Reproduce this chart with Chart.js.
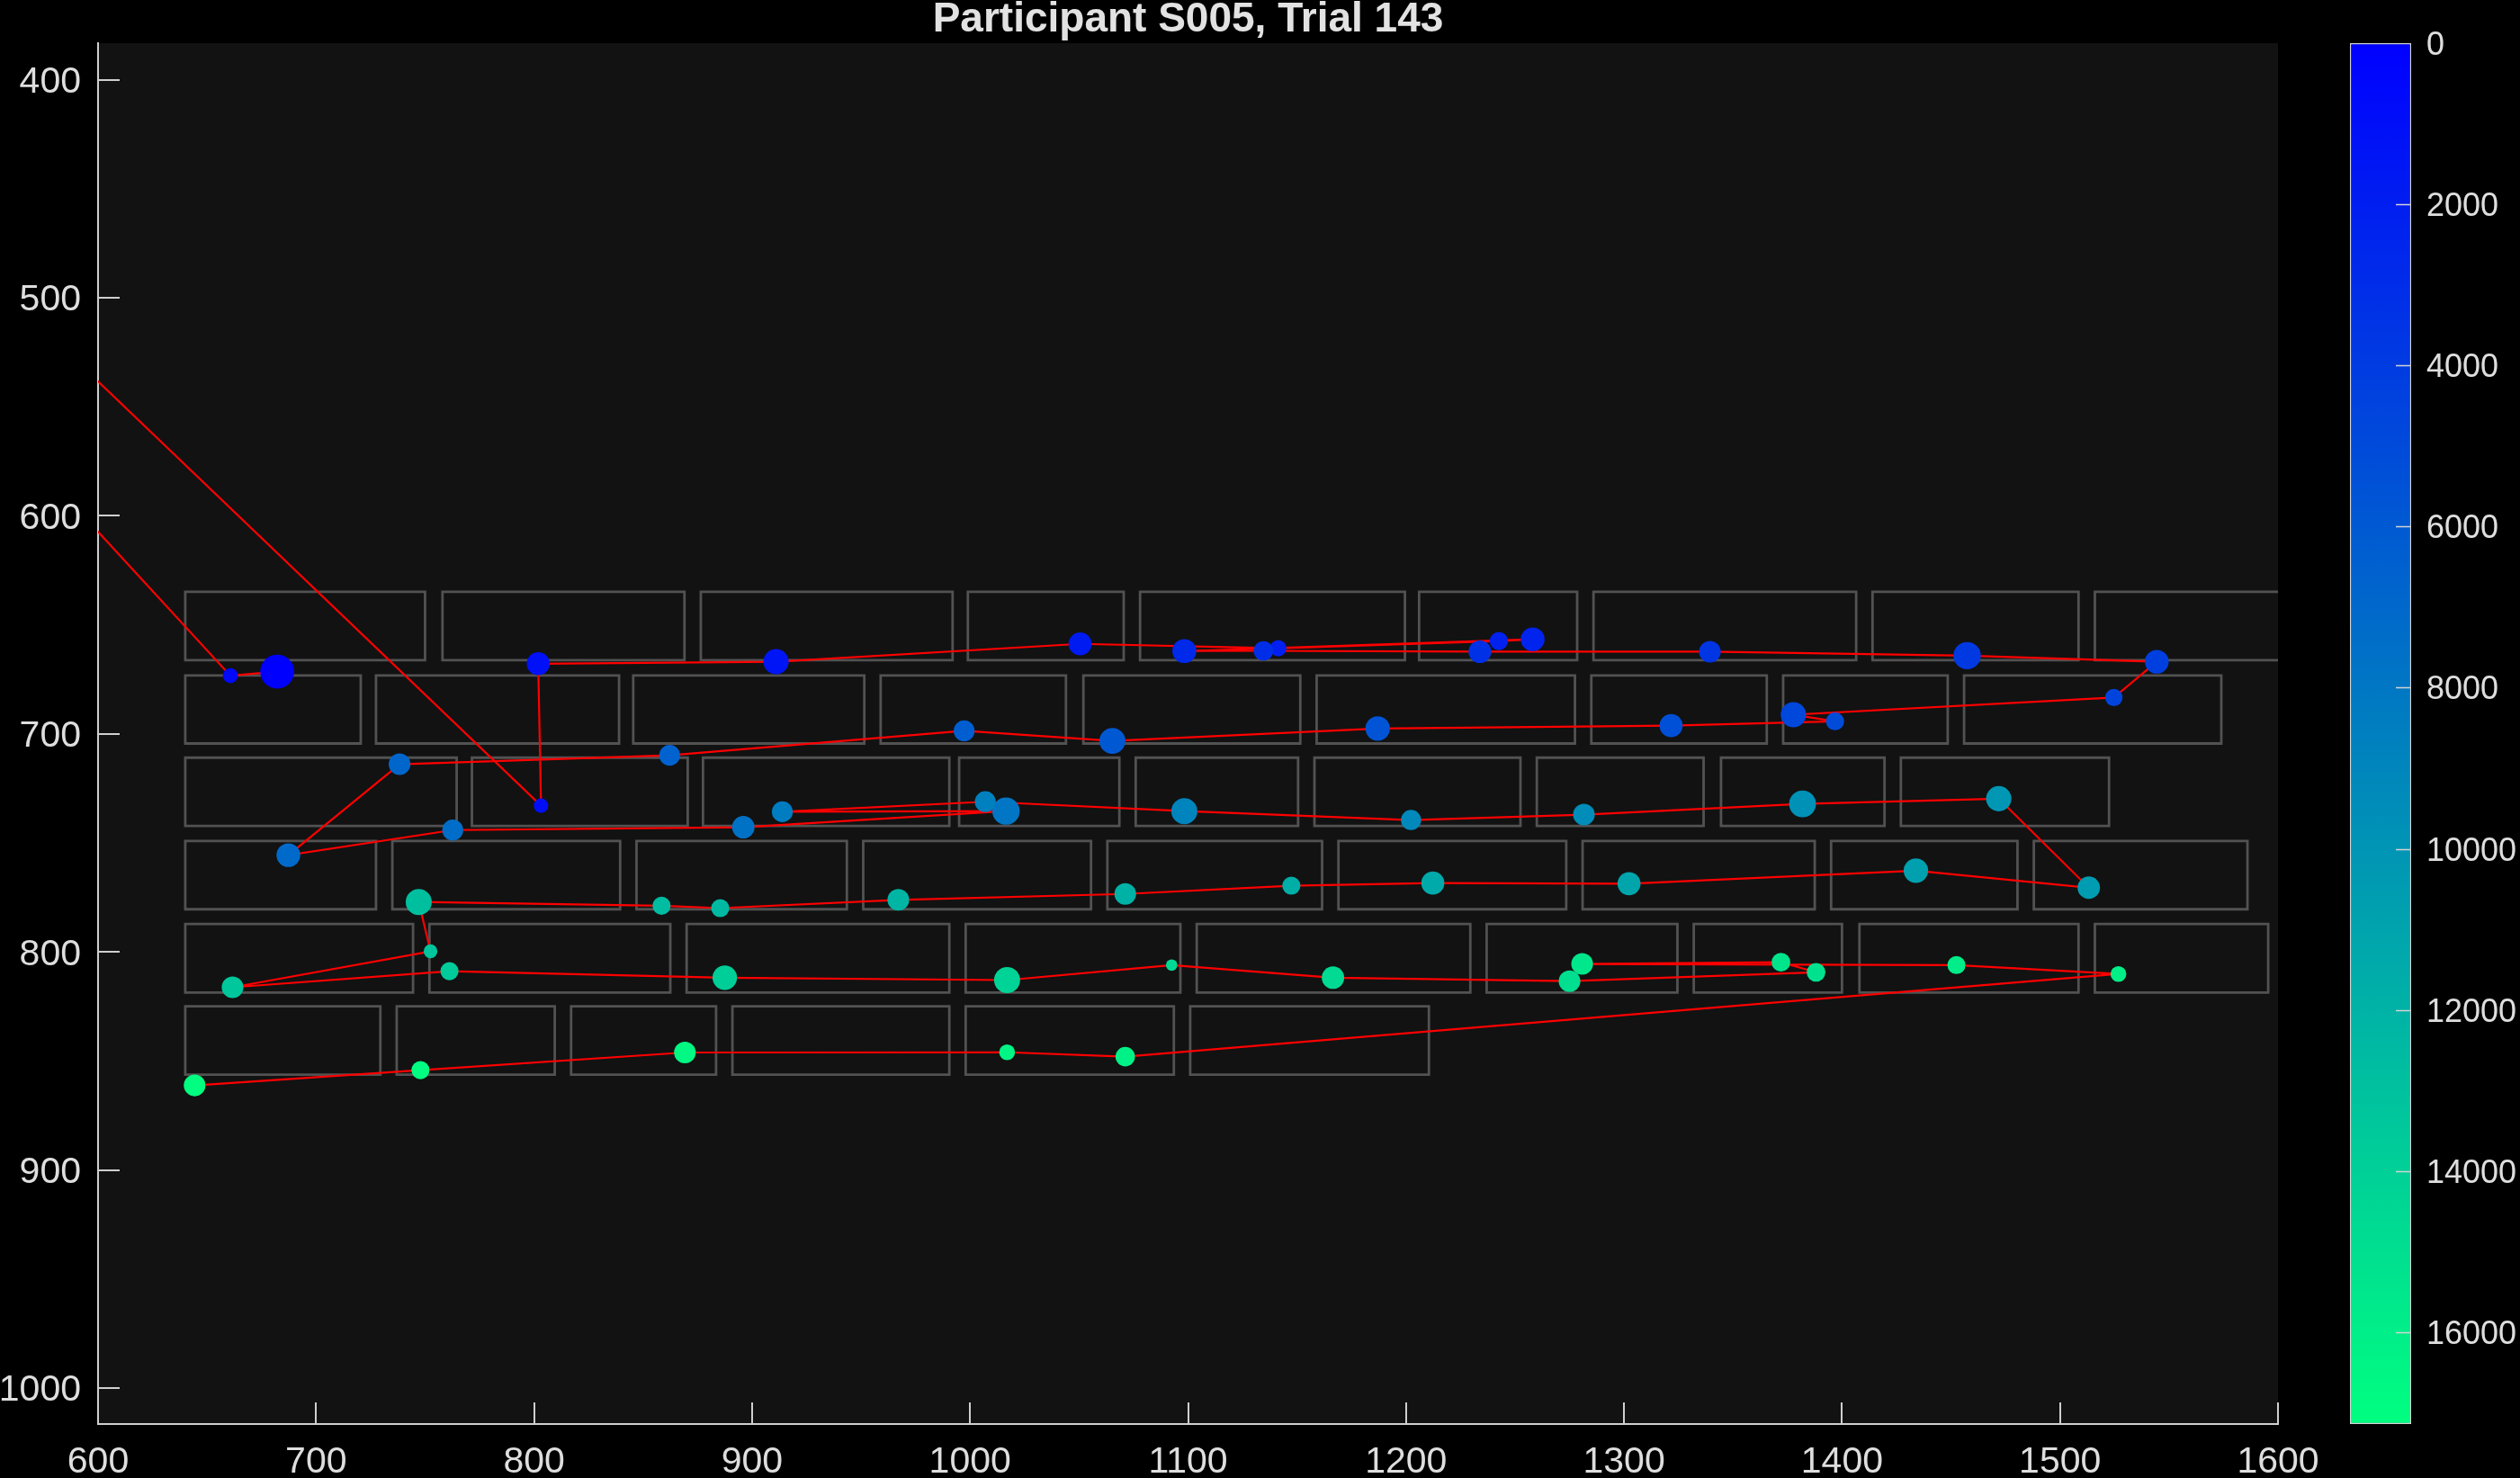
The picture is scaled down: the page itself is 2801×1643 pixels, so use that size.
<!DOCTYPE html>
<html>
<head>
<meta charset="utf-8">
<script src="https://cdn.jsdelivr.net/npm/chart.js@4.4.1/dist/chart.umd.min.js"></script>
<style>
  html, body { margin: 0; padding: 0; background: #000; overflow: hidden; }
  #wrap { position: relative; width: 2801px; height: 1643px; background: #000; }
  #main { position: absolute; left: 0; top: 0; }
  #cbar { position: absolute; left: 2540px; top: 0; }
</style>
</head>
<body>
<div id="wrap">
  <canvas id="main" width="2801" height="1643"></canvas>
  <canvas id="cbar" width="261" height="1643"></canvas>
</div>
<script>
// ---------------- data ----------------
const chartTitle = 'Participant S005, Trial 143';
const xTickValues = [600, 700, 800, 900, 1000, 1100, 1200, 1300, 1400, 1500, 1600];
const yTickValues = [400, 500, 600, 700, 800, 900, 1000];
const colorbarTicks = [0, 2000, 4000, 6000, 8000, 10000, 12000, 14000, 16000];

// fixation sequence (screen px), durations (ms) and onset times (ms)
const fixX = [682.2, 660.7, 70, 803.2, 801.9, 911.0, 1050.5, 1141.4, 1242.6, 1258.1,
  1098.3, 1134.6, 1233.9, 1339.4, 1457.4, 1544.4, 1524.7, 1377.7, 1396.8, 1321.6,
  1187.0, 1065.3, 997.3, 862.2, 738.3, 687.3, 762.7, 896.0, 1016.5, 913.9,
  1007.0, 1098.3, 1202.3, 1281.6, 1381.9, 1471.9, 1513.2, 1433.9, 1302.3, 1212.3,
  1147.4, 1071.2, 967.1, 885.4, 858.5, 747.1, 752.5, 661.7, 761.2, 887.5,
  1017.0, 1092.5, 1166.5, 1275.0, 1388.1, 1372.0, 1280.8, 1452.5, 1526.8, 1071.2,
  1017.0, 869.2, 747.9, 644.3];
const fixY = [671.4, 673.3, 31, 732.9, 667.8, 666.9, 658.7, 660.7, 657.4, 656.6,
  662.0, 661.9, 662.3, 662.3, 664.1, 666.9, 683.3, 691.2, 694.2, 696.2,
  697.5, 703.2, 698.6, 709.8, 713.9, 755.6, 744.1, 742.8, 735.4, 735.7,
  731.1, 735.4, 739.5, 737.0, 732.1, 729.7, 770.5, 762.7, 768.7, 768.4,
  769.6, 773.4, 776.1, 779.9, 778.8, 777.1, 799.7, 816.2, 808.8, 811.8,
  812.9, 806.0, 811.8, 813.4, 809.3, 804.7, 805.5, 806.0, 810.1, 848.0,
  846.0, 846.1, 854.2, 861.2];
const fixDuration = [535, 106, 165, 98, 246, 296, 246, 125, 155, 262,
  266, 175, 238, 218, 347, 262, 140, 296, 152, 246,
  279, 314, 203, 203, 218, 262, 203, 234, 347, 203,
  203, 314, 189, 218, 333, 296, 234, 279, 246, 246,
  152, 218, 218, 152, 152, 314, 88, 218, 152, 279,
  314, 61, 234, 218, 162, 162, 218, 152, 116, 175,
  116, 218, 152, 218];
const fixTime = [0, 588, 745, 963, 1113, 1411, 1761, 2059, 2236, 2443,
  2757, 3076, 3304, 3594, 3864, 4263, 4578, 4770, 5120, 5324,
  5622, 5953, 6320, 6575, 6831, 7101, 7416, 7671, 7958, 8358,
  8613, 8869, 9235, 9476, 9747, 10133, 10482, 10769, 11100, 11398,
  11697, 11900, 12171, 12441, 12645, 12848, 13215, 13355, 13625, 13829,
  14160, 14526, 14640, 14927, 15197, 15411, 15625, 15896, 16099, 16268,
  16496, 16665, 16935, 17139];

// word boxes: row top/bottom (screen px) and [left, right] of each word
const rowTop = [634.8, 673.2, 710.9, 749.1, 787.2, 824.9];
const rowBottom = [666.2, 704.4, 742.2, 780.4, 818.6, 856.3];
const row1Words = [[640, 750], [758, 869], [876.5, 992], [999, 1070.5], [1078, 1199.5], [1206, 1278.5], [1286, 1406.5], [1414, 1508.5], [1516, 1630]];
const row2Words = [[640, 720.5], [727.5, 839], [845.5, 951.5], [959, 1044], [1052, 1151.5], [1159, 1277.5], [1285, 1365.5], [1373, 1448.5], [1456, 1574]];
const row3Words = [[640, 764.5], [771.5, 870.5], [877.5, 990.5], [995, 1068.5], [1076, 1150.5], [1158, 1252.5], [1260, 1336.5], [1344.5, 1419.5], [1427, 1522.5]];
const row4Words = [[640, 727.5], [735, 839.5], [847, 943.5], [951, 1055.5], [1063, 1161.5], [1169, 1273.5], [1281, 1387.5], [1395, 1480.5], [1488, 1586]];
const row5Words = [[640, 744.5], [752, 862.5], [870, 990.5], [998, 1096.5], [1104, 1229.5], [1237, 1324.5], [1332, 1400], [1408, 1508.5], [1516, 1595.5]];
const row6Words = [[640, 729.5], [737, 809.5], [817, 883.5], [891, 990.5], [998, 1093.5], [1101, 1210.5]];

// ---------------- helpers ----------------
const FONT = "'Liberation Sans', Arial, Helvetica, sans-serif";
const TEXT_COLOR = '#dedede';
const AXIS_COLOR = '#cfcfcf';
Chart.defaults.font.family = FONT;

const tMax = Math.max(...fixTime);
function winter(t) {
  t = Math.max(0, Math.min(1, t));
  return 'rgb(0,' + Math.round(255 * t) + ',' + Math.round(255 * (1 - 0.5 * t)) + ')';
}
const plainLabel = v => String(v);
const dotRadius = ctx => Math.sqrt(fixDuration[ctx.dataIndex] / 1.5);

const allRows = [row1Words, row2Words, row3Words, row4Words, row5Words, row6Words];
const boxPoints = [];
allRows.forEach((words, i) => {
  const top = rowTop[i], bot = rowBottom[i];
  words.forEach(([l, r]) => {
    const m = (l + r) / 2;
    boxPoints.push({x: m, y: top}, {x: r, y: top}, {x: r, y: bot}, {x: l, y: bot},
                   {x: l, y: top}, {x: m, y: top}, {x: m, y: null});
  });
});
const pathPoints = fixX.map((x, i) => ({x: x, y: fixY[i]}));

const plotBg = {
  id: 'plotBg',
  beforeDraw(chart) {
    const {ctx, chartArea: a} = chart;
    ctx.save();
    ctx.fillStyle = '#000';
    ctx.fillRect(0, 0, chart.width, chart.height);
    ctx.fillStyle = '#121212';
    ctx.fillRect(a.left, a.top, a.right - a.left, a.bottom - a.top);
    ctx.restore();
  }
};
const inwardTicks = {
  id: 'inwardTicks',
  afterDraw(chart) {
    const {ctx, chartArea: a, scales} = chart;
    const len = 24;
    ctx.save();
    ctx.strokeStyle = AXIS_COLOR;
    ctx.lineWidth = 2;
    ctx.beginPath();
    scales.x.ticks.forEach(t => {
      const px = Math.round(scales.x.getPixelForValue(t.value));
      ctx.moveTo(px, a.bottom); ctx.lineTo(px, a.bottom - len);
    });
    scales.y.ticks.forEach(t => {
      const py = Math.round(scales.y.getPixelForValue(t.value));
      ctx.moveTo(a.left, py); ctx.lineTo(a.left + len, py);
    });
    ctx.stroke();
    ctx.restore();
  }
};

new Chart(document.getElementById('main'), {
  type: 'scatter',
  data: {
    datasets: [
      {
        type: 'scatter',
        label: 'fixations',
        data: pathPoints,
        order: 1,
        clip: 0,
        pointRadius: dotRadius,
        pointHoverRadius: dotRadius,
        pointBackgroundColor: ctx => winter(fixTime[ctx.dataIndex] / tMax),
        pointBorderWidth: 0,
        pointBorderColor: 'rgba(0,0,0,0)'
      },
      {
        type: 'line',
        label: 'scanpath',
        data: pathPoints,
        order: 2,
        clip: 0,
        borderColor: '#ff0000',
        borderWidth: 2.2,
        pointRadius: 0,
        tension: 0,
        fill: false
      },
      {
        type: 'line',
        label: 'words',
        data: boxPoints,
        order: 3,
        clip: 0,
        borderColor: '#525252',
        borderWidth: 2.8,
        borderJoinStyle: 'miter',
        pointRadius: 0,
        spanGaps: false,
        tension: 0,
        fill: false
      }
    ]
  },
  options: {
    responsive: false,
    animation: false,
    devicePixelRatio: 1,
    events: [],
    layout: {padding: {left: 0, right: 269, top: 0, bottom: 0}},
    plugins: {
      legend: {display: false},
      tooltip: {enabled: false},
      title: {
        display: true,
        text: chartTitle,
        color: '#e2e2e2',
        fullSize: false,
        font: {family: FONT, size: 46, weight: 'bold', lineHeight: 0.98},
        padding: {top: 0, bottom: 2.9}
      }
    },
    scales: {
      x: {
        type: 'linear',
        min: 600, max: 1600,
        afterBuildTicks: s => { s.ticks = xTickValues.map(v => ({value: v})); },
        afterFit: s => { s.height = 60; },
        grid: {display: false, drawTicks: false},
        border: {display: true, color: AXIS_COLOR, width: 2},
        ticks: {color: TEXT_COLOR, font: {family: FONT, size: 41}, padding: 18, maxRotation: 0, autoSkip: false, callback: plainLabel}
      },
      y: {
        type: 'linear',
        reverse: true,
        min: 383.2, max: 1016.5,
        afterBuildTicks: s => { s.ticks = yTickValues.map(v => ({value: v})); },
        afterFit: s => { s.width = 109; },
        grid: {display: false, drawTicks: false},
        border: {display: true, color: AXIS_COLOR, width: 2},
        ticks: {color: TEXT_COLOR, font: {family: FONT, size: 41}, padding: 19, labelOffset: 3, autoSkip: false, callback: plainLabel}
      }
    }
  },
  plugins: [plotBg, inwardTicks]
});

// ---------------- colorbar ----------------
const cbTickMarks = {
  id: 'cbTickMarks',
  afterDatasetsDraw(chart) {
    const {ctx, chartArea: a, scales} = chart;
    ctx.save();
    ctx.strokeStyle = '#d4d4d4';
    ctx.lineWidth = 1.5;
    ctx.beginPath();
    scales.y.ticks.forEach(t => {
      if (t.value <= 0) return;
      const py = Math.round(scales.y.getPixelForValue(t.value)) + 0.5;
      ctx.moveTo(a.right - 17, py); ctx.lineTo(a.right, py);
    });
    ctx.stroke();
    ctx.restore();
  }
};

new Chart(document.getElementById('cbar'), {
  type: 'bar',
  data: {
    labels: ['time'],
    datasets: [{
      data: [[0, tMax]],
      backgroundColor: c => {
        const a = c.chart.chartArea;
        if (!a) return winter(0);
        const g = c.chart.ctx.createLinearGradient(0, a.top, 0, a.bottom);
        g.addColorStop(0, winter(0));
        g.addColorStop(1, winter(1));
        return g;
      },
      borderColor: '#d4d4d4',
      borderWidth: 1.5,
      borderSkipped: false,
      barPercentage: 1,
      categoryPercentage: 1
    }]
  },
  options: {
    responsive: false,
    animation: false,
    devicePixelRatio: 1,
    events: [],
    layout: {padding: {left: 72, top: 48, bottom: 60, right: 0}},
    plugins: {legend: {display: false}, tooltip: {enabled: false}, title: {display: false}},
    scales: {
      x: {display: false},
      y: {
        position: 'right',
        reverse: true,
        min: 0, max: tMax,
        afterBuildTicks: s => { s.ticks = colorbarTicks.map(v => ({value: v})); },
        afterFit: s => { s.width = 121; },
        grid: {display: false, drawTicks: false},
        border: {display: false},
        ticks: {color: TEXT_COLOR, font: {family: FONT, size: 36}, padding: 17, labelOffset: 3, autoSkip: false, callback: plainLabel}
      }
    }
  },
  plugins: [cbTickMarks]
});
</script>
</body>
</html>
